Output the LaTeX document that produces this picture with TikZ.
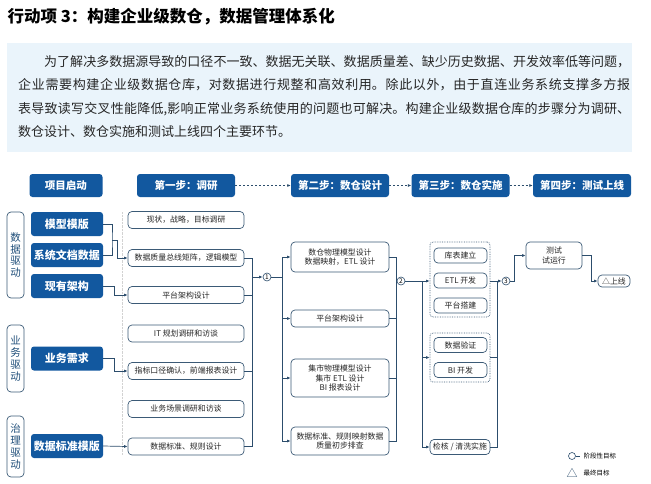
\documentclass[tikz,border=0pt]{standalone}
\usepackage{fontspec}
\setmainfont{Noto Sans CJK SC}
\usetikzlibrary{arrows.meta,positioning}
\XeTeXlinebreaklocale "zh"
\XeTeXlinebreakskip=0pt plus 2pt
\definecolor{DWBlue}{HTML}{12589F}
\definecolor{DWSlate}{HTML}{3B5A76}
\definecolor{DWLine}{HTML}{2C4D6C}
\definecolor{DWInk}{HTML}{1F4E79}
\definecolor{DWPale}{HTML}{EAF4FB}

\begin{document}
\begin{tikzpicture}[x=1pt,y=-1pt,
    >={Latex[length=3.5pt,width=3pt]},
    head/.style={fill=DWBlue,rounded corners=3pt,text=white,
      font=\bfseries\fontsize{10.5}{12}\selectfont,
      minimum width=98pt,minimum height=23pt,inner sep=0pt},
    source/.style={head,minimum width=72pt,minimum height=24pt,
      font=\bfseries\fontsize{11}{12}\selectfont},
    driver/.style={draw=DWSlate,line width=0.7pt,rounded corners=4pt,
      minimum width=17pt,inner sep=0pt,text=DWInk,align=center,
      font=\fontsize{10.5}{11.8}\selectfont},
    task/.style={draw=DWSlate,line width=0.7pt,rounded corners=4pt,fill=white,
      minimum width=116pt,minimum height=17pt,inner sep=1pt,align=center,
      text=black!85,font=\fontsize{7.9}{9.6}\selectfont},
    design/.style={task,minimum width=98pt},
    build/.style={task,minimum width=53pt,minimum height=15pt},
    group/.style={draw=DWSlate,densely dotted,rounded corners=3pt,line width=0.7pt,
      minimum width=60pt,inner sep=0pt},
    link/.style={draw=DWLine,line width=0.7pt},
    flow/.style={->,draw=DWLine,dash pattern=on 2pt off 2pt,line width=0.7pt},
    goal/.style={circle,draw=DWLine,line width=0.6pt,inner sep=0pt,
      minimum size=8pt,font=\fontsize{6.5}{7}\selectfont}
  ]
  \path[use as bounding box] (0,0) rectangle (651,483);

  % title and intro
  \node[anchor=west,font=\bfseries\fontsize{16.5}{18}\selectfont] (title) at (4,17)
    {行动项 3：构建企业级数仓，数据管理体系化};
  \fill[DWPale] (7,43) rectangle (632,152);
  \node[anchor=north west,inner sep=0pt,text width=612pt,align=justify,text=black!85,
    font=\fontsize{13}{23.5}\selectfont] (intro) at (18,55)
    {\hspace*{2em}为了解决多数据源导致的口径不一致、数据无关联、数据质量差、缺少历史数据、开发效率低等问题，\linebreak
     企业需要构建企业级数据仓库，对数据进行规整和高效利用。除此以外，由于直连业务系统支撑多方报\linebreak
     表导致读写交叉性能降低,影响正常业务系统使用的问题也可解决。构建企业级数据仓库的步骤分为调研、\linebreak
     数仓设计、数仓实施和测试上线四个主要环节。};

  % stage headers
  \node[head,minimum width=73pt] (start) at (66,185.5) {项目启动};
  \node[head] (step1) at (186,185.5) {第一步：调研};
  \node[head] (step2) at (340,185.5) {第二步：数仓设计};
  \node[head] (step3) at (460.5,185.5) {第三步：数仓实施};
  \node[head] (step4) at (582,185.5) {第四步：测试上线};
  \draw[flow] (step1) -- (step2);
  \draw[flow] (step2) -- (step3);
  \draw[flow] (step3) -- (step4);

  % drivers and sources
  \node[driver,minimum height=86pt] (datadrv) at (15.5,255) {数\\据\\驱\\动};
  \node[driver,minimum height=67pt] (bizdrv) at (15.5,358.5) {业\\务\\驱\\动};
  \node[driver,minimum height=61pt] (govdrv) at (15.5,446.5) {治\\理\\驱\\动};
  \node[source] (tmpl) at (67,224) {模型模版};
  \node[source] (docs) at (67,255) {系统文档数据};
  \node[source] (arch) at (67,286) {现有架构};
  \node[source] (need) at (67,358.5) {业务需求};
  \node[source] (stdtmpl) at (67,446) {数据标准模版};

  % step 1
  \draw[gray!35,densely dotted] (122,212) -- (122,455);
  \node[task] (survey) at (186,220) {现状，战略，目标调研};
  \node[task] (matrix) at (186,258) {数据质量总线矩阵，逻辑模型};
  \node[task] (platA) at (186,295) {平台架构设计};
  \node[task] (itplan) at (186,333.5) {IT 规划调研和访谈};
  \node[task] (metric) at (186,371) {指标口径确认，前端报表设计};
  \node[task] (scene) at (186,409) {业务场景调研和访谈};
  \node[task] (rules) at (186,446.5) {数据标准、规则设计};

  \coordinate (jsrc) at (112,240);
  \draw[link] (tmpl.east) -| (jsrc) |- (docs.east);
  \draw[link,->] (jsrc) -- ++(5,0) |- (matrix.west);
  \draw[link,->] (arch.east) -- ++(11,0) |- (platA.west);
  \draw[link,->] (need.east) -- ++(11,0) |- (metric.west);
  \draw[link,->] (stdtmpl.east) -- (rules.west);

  \draw[link] (matrix.east) -- ++(8,0) |- (rules.east);
  \draw[link] (platA.east) -- ++(8,0);
  \draw[link] (metric.east) -- ++(8,0);
  \coordinate (out1) at (252,277);
  \node[goal] (goal1) at (267,277) {1};
  \draw[link,->] (out1) -- (goal1);

  % step 2
  \node[design,minimum height=30pt] (dwmodel) at (340,257) {数仓物理模型设计\\数据映射，ETL 设计};
  \node[design] (platB) at (340,318.5) {平台架构设计};
  \node[design,minimum height=38pt] (mart) at (340,378) {集市物理模型设计\\集市 ETL 设计\\BI 报表设计};
  \node[design,minimum height=28pt] (quality) at (340,441) {数据标准、规则映射数据\\质量初步排查};

  \coordinate (in2) at (282,277);
  \draw[link] (goal1) -- (in2);
  \draw[link,->] (in2) |- (dwmodel.west);
  \draw[link,->] (in2) |- (platB.west);
  \draw[link,->] (in2) |- (mart.west);
  \draw[link,->] (in2) |- (quality.west);

  \draw[link] (dwmodel.east) -- ++(7,0) |- (quality.east);
  \draw[link] (platB.east) -- ++(7,0);
  \draw[link] (mart.east) -- ++(7,0);
  \coordinate (out2) at (396,281);
  \node[goal] (goal2) at (401,281) {2};
  \draw[link] (out2) -- (goal2);

  % step 3
  \node[group,minimum height=75pt] (grpA) at (460,279.5) {};
  \node[group,minimum height=49pt] (grpB) at (460,357.5) {};
  \node[build] (tables) at (460.5,255.5) {库表建立};
  \node[build] (etldev) at (460.5,280.5) {ETL 开发};
  \node[build] (platC) at (460.5,305.5) {平台搭建};
  \node[build] (verify) at (460.5,345) {数据验证};
  \node[build] (bidev) at (460.5,370) {BI 开发};
  \node[build,minimum width=60pt] (clean) at (460,447) {检核 / 清洗实施};

  \coordinate (in3) at (422,281);
  \draw[link,->] (goal2) -- (goal2 -| grpA.west);
  \draw[link,->] (in3) |- (grpB.west);
  \draw[link,->] (in3) |- (clean.west);

  \coordinate (out3) at (497,281);
  \draw[link] (out3 -| grpA.east) -- (out3) |- (clean.east);
  \draw[link] (grpB.east) -- (grpB.east -| out3);
  \node[goal] (goal3) at (506,281) {3};
  \draw[link,->] (out3) -- (goal3);

  % step 4
  \node[task,minimum width=56pt,minimum height=27pt] (trial) at (554,255.5) {测试\\试运行};
  \node[task,minimum width=32pt,minimum height=12pt,inner sep=0.5pt] (golive) at (614,281) {△上线};
  \draw[link,->] (goal3.east) -- ++(4,0) |- (trial.west);
  \draw[link,->] (trial.east) -- ++(9,0) |- (golive.west);

  % legend
  \node[goal,minimum size=7pt] (lgdstage) at (572,456) {};
  \node[anchor=west,font=\fontsize{6.5}{7}\selectfont] (lgdstagetxt) at (580,456) {阶段性目标};
  \draw[link] (lgdstage) -- (lgdstagetxt);
  \node[font=\fontsize{11}{11}\selectfont,text=DWLine,inner sep=0pt] (lgdfinal) at (572,472.5) {△};
  \node[anchor=west,font=\fontsize{6.5}{7}\selectfont] (lgdfinaltxt) at (580,473) {最终目标};
\end{tikzpicture}
\end{document}
